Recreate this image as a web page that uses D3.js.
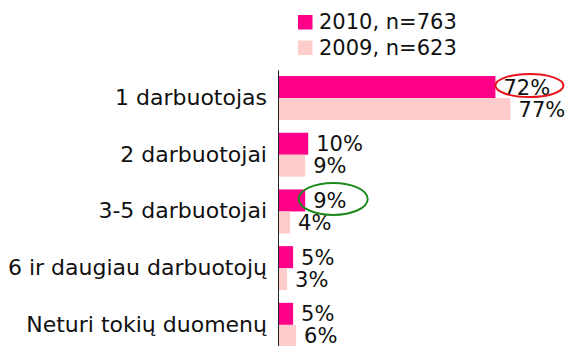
<!DOCTYPE html>
<html>
<head>
<meta charset="utf-8">
<script src="https://cdn.jsdelivr.net/npm/d3@7"></script>
<style>
  html, body { margin: 0; padding: 0; background: #fff; }
  svg text { font-family: "DejaVu Sans", Verdana, sans-serif; fill: #111; }
</style>
</head>
<body>
<svg id="chart" width="571" height="346"></svg>
<script>
// Category labels (top to bottom)
const categories = [
  "1 darbuotojas",
  "2 darbuotojai",
  "3-5 darbuotojai",
  "6 ir daugiau darbuotojų",
  "Neturi tokių duomenų"
];
// Series
const seriesNames = ["2010, n=763", "2009, n=623"];
const values2010 = [72, 10, 9, 5, 5];
const values2009 = [77, 9, 4, 3, 6];
const seriesColors = ["#ff0088", "#ffcccc"];

// Highlighted values: [category index, series index, ring colour, x offset, rx, ry]
const highlights = [
  [0, 0, "#e8141c", 34, 34, 11.5],
  [2, 0, "#1e8a1e", 28, 34.5, 16]
];

const svg = d3.select("#chart");
const seriesValues = [values2010, values2009];

const x = d3.scaleLinear().domain([0, 100]).range([278, 580]);

const y = d3.scaleBand()
  .domain(categories)
  .range([69.7, 353.2])
  .paddingInner(0.224)
  .paddingOuter(0.112);

const ySub = d3.scaleBand()
  .domain(d3.range(seriesNames.length))
  .range([0, y.bandwidth()]);

// Bars
const groups = svg.append("g")
  .selectAll("g")
  .data(categories)
  .join("g")
  .attr("transform", d => `translate(0,${y(d)})`);

groups.each(function(cat, ci) {
  const g = d3.select(this);
  seriesValues.forEach((vals, si) => {
    g.append("rect")
      .attr("x", x(0))
      .attr("y", ySub(si))
      .attr("width", x(vals[ci]) - x(0))
      .attr("height", ySub.bandwidth())
      .attr("fill", seriesColors[si]);
  });
  seriesValues.forEach((vals, si) => {
    g.append("text")
      .attr("x", x(vals[ci]) + 8)
      .attr("y", ySub(si) + ySub.bandwidth() / 2)
      .attr("dy", "0.36em")
      .attr("font-size", 21)
      .text(vals[ci] + "%");
  });
});

// Category axis
const axis = svg.append("g")
  .attr("transform", `translate(${x(0)},0)`)
  .call(d3.axisLeft(y).tickSize(0).tickSizeOuter(0).tickPadding(11));
axis.select(".domain").attr("stroke", "#222").attr("stroke-width", 1);
axis.selectAll(".tick text")
  .attr("font-size", 22)
  .attr("font-family", "DejaVu Sans, Verdana, sans-serif")
  .attr("fill", "#111");

// Rings around highlighted values
highlights.forEach(([ci, si, col, dx, rx, ry]) => {
  const v = seriesValues[si][ci];
  svg.append("ellipse")
    .attr("cx", x(v) + dx)
    .attr("cy", y(categories[ci]) + ySub(si) + ySub.bandwidth() / 2 - 1.5)
    .attr("rx", rx)
    .attr("ry", ry)
    .attr("fill", "none")
    .attr("stroke", col)
    .attr("stroke-width", 2);
});

// Legend
const legend = svg.append("g").attr("transform", "translate(298,15)");
seriesNames.forEach((name, i) => {
  const row = legend.append("g").attr("transform", `translate(0,${i * 25.5})`);
  row.append("rect")
    .attr("width", 14.5)
    .attr("height", 14.5)
    .attr("fill", seriesColors[i]);
  row.append("text")
    .attr("x", 21)
    .attr("y", 14.2)
    .attr("font-size", 21)
    .text(name);
});
</script>
</body>
</html>
